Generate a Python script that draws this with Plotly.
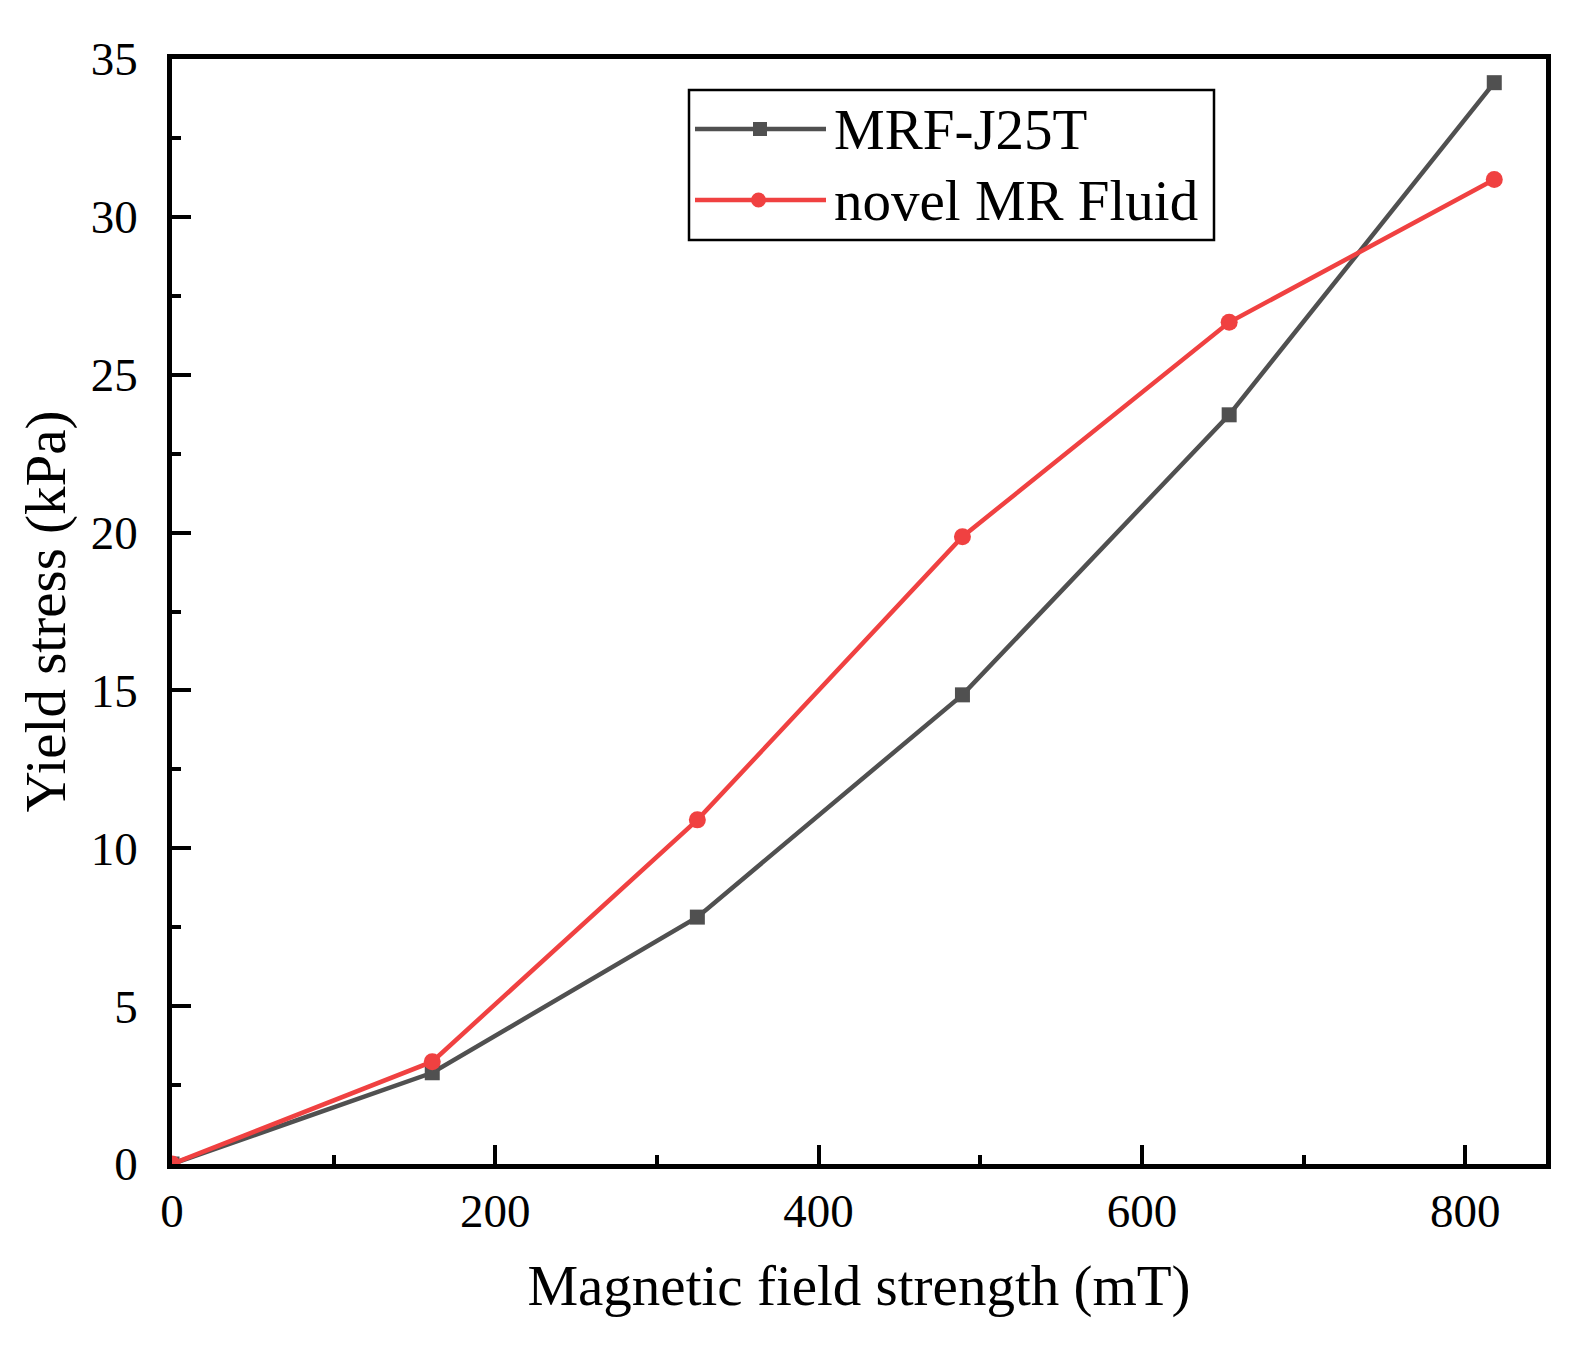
import plotly.graph_objects as go

# data
field_mT = [0, 161, 325, 489, 654, 818]
mrf_j25t = [0, 2.89, 7.82, 14.86, 23.73, 34.25]
novel_mrf = [0, 3.24, 10.90, 19.87, 26.66, 31.18]
series_names = ["MRF-J25T", "novel MR Fluid"]

GRAY = "#505050"
RED = "#f04141"
FONT = "Liberation Serif, Times New Roman, serif"

W, H = 1579, 1346
L, R, T, B = 164, 41, 51, 190


def px(x):
    # pixel x -> paper
    return (x - L) / (W - L - R)


def py(y):
    # pixel y -> paper
    return (H - B - y) / (H - T - B)


fig = go.Figure()
fig.add_trace(go.Scatter(x=field_mT, y=mrf_j25t, mode="lines+markers", name=series_names[0],
                         line=dict(color=GRAY, width=4.5),
                         marker=dict(symbol="square", size=15, color=GRAY)))
fig.add_trace(go.Scatter(x=field_mT, y=novel_mrf, mode="lines+markers", name=series_names[1],
                         line=dict(color=RED, width=4.5),
                         marker=dict(symbol="circle", size=17, color=RED)))

axis_common = dict(
    showgrid=False, zeroline=False,
    showline=True, linecolor="black", linewidth=4.5, mirror=True,
    ticks="inside", ticklen=19, tickwidth=3.5, tickcolor="black",
    tickfont=dict(family=FONT, size=47, color="black"),
    title_font=dict(family=FONT, size=57, color="black"),
)

fig.update_xaxes(range=[0, 850], tick0=0, dtick=200,
                 minor=dict(ticks="inside", ticklen=9, tickwidth=3.5, tickcolor="black", dtick=100),
                 title_text="Magnetic field strength (mT)", title_standoff=30,
                 ticklabelstandoff=2, **axis_common)
fig.update_yaxes(range=[0, 35], tick0=0, dtick=5,
                 minor=dict(ticks="inside", ticklen=9, tickwidth=3.5, tickcolor="black", dtick=2.5),
                 title_text="Yield stress (kPa)", title_standoff=8,
                 ticklabelstandoff=20, **axis_common)

# hand-drawn legend box (Origin style, long sample lines)
shapes = [
    dict(type="rect", xref="paper", yref="paper", x0=px(681), x1=px(1206), y0=py(232), y1=py(82),
         line=dict(color="black", width=2.5), fillcolor="white", layer="above"),
]
annotations = []
for name, color, sym, yc in [(series_names[0], GRAY, "square", 121), (series_names[1], RED, "circle", 192)]:
    shapes.append(dict(type="line", xref="paper", yref="paper", x0=px(687), x1=px(818), y0=py(yc), y1=py(yc),
                       line=dict(color=color, width=4.5), layer="above"))
    if sym == "square":
        shapes.append(dict(type="rect", xref="paper", yref="paper", x0=px(745), x1=px(759),
                           y0=py(yc + 7), y1=py(yc - 7), line=dict(width=0), fillcolor=color, layer="above"))
    else:
        shapes.append(dict(type="circle", xref="paper", yref="paper", x0=px(743), x1=px(758),
                           y0=py(yc + 7.5), y1=py(yc - 7.5), line=dict(width=0), fillcolor=color, layer="above"))
    annotations.append(dict(text=name, xref="paper", yref="paper", x=px(824), y=py(yc), xanchor="left",
                            yanchor="middle", showarrow=False,
                            font=dict(family=FONT, size=57, color="black")))

fig.update_layout(
    width=W, height=H,
    margin=dict(l=L, r=R, t=T, b=B),
    paper_bgcolor="white", plot_bgcolor="white",
    showlegend=False,
    shapes=shapes, annotations=annotations,
)

fig.write_html("out.html")
